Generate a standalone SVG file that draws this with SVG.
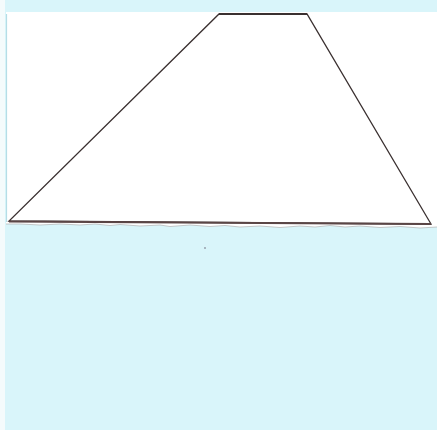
<svg xmlns="http://www.w3.org/2000/svg" width="437" height="430" viewBox="0 0 437 430">
<style>
.edge{fill:none;stroke:#3a3030;stroke-width:1.3;stroke-linecap:round}
</style>
<rect x="0" y="0" width="437" height="430" fill="#d9f5fa"/>
<rect x="0" y="0" width="5" height="430" fill="#f4fbfc"/>
<path d="M6,12 L437,12 L437,227 L420,228 L400,226.5 L380,227.5 L360,226 L345,227 L330,225.5 L315,227 L300,226 L280,227.5 L260,226 L240,227 L225,225.5 L210,226.5 L190,225 L170,226.5 L160,225 L140,226 L120,224.5 L110,225.5 L95,224 L80,225 L60,224 L40,225 L20,224 L6,224 Z" fill="#ffffff"/>
<path d="M437,227 L420,228 L400,226.5 L380,227.5 L360,226 L345,227 L330,225.5 L315,227 L300,226 L280,227.5 L260,226 L240,227 L225,225.5 L210,226.5 L190,225 L170,226.5 L160,225 L140,226 L120,224.5 L110,225.5 L95,224 L80,225 L60,224 L40,225 L20,224 L6,224" fill="none" stroke="#b0b0b0" stroke-width="0.7"/>
<line x1="6.5" y1="14" x2="6.5" y2="222" stroke="#b5dde6" stroke-width="1.2"/>
<g id="trapezoid">
<polygon class="edge" points="219,14 307,14 431,224 9,221"/>
<line x1="219" y1="14" x2="307" y2="14" stroke="#3a3030" stroke-width="2"/>
<line x1="9" y1="221.5" x2="431" y2="224" stroke="#5a4545" stroke-width="2"/>
</g>
<circle cx="205" cy="248" r="0.8" fill="#667"/>
</svg>
